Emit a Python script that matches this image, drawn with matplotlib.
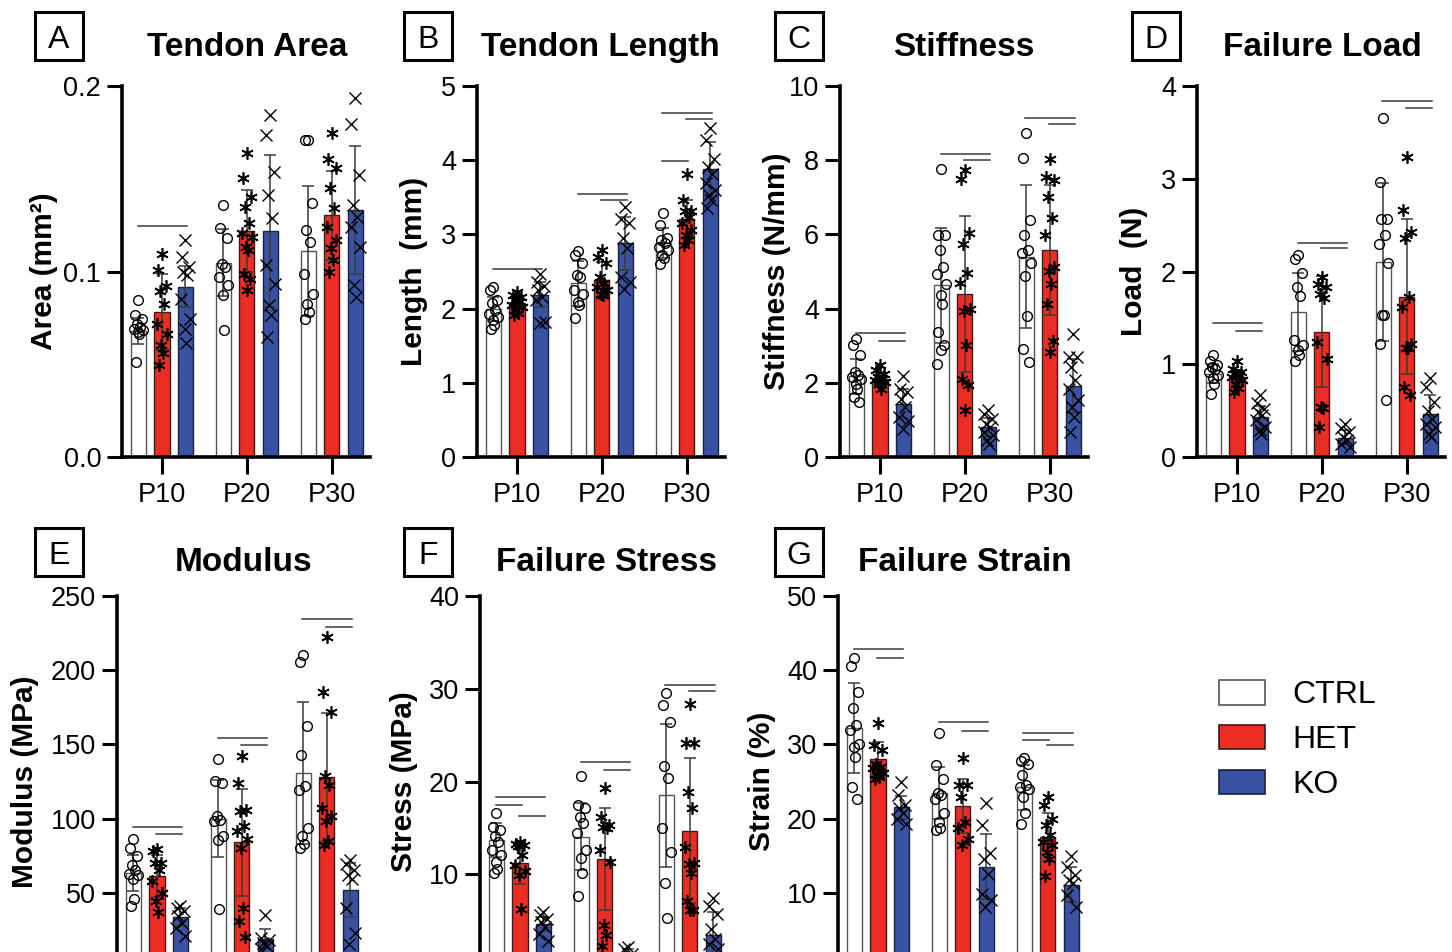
import matplotlib.pyplot as plt
from matplotlib.patches import Patch, Rectangle

plt.rcParams['font.family'] = ['Liberation Sans', 'DejaVu Sans']

groups = ["P10", "P20", "P30"]
genotypes = ["CTRL", "HET", "KO"]

# A - Tendon Area (mm2): one list per time point
area_ctrl = [[0.0845, 0.0764, 0.0746, 0.0719, 0.0701, 0.0692, 0.0683, 0.0674, 0.0665, 0.0513],
             [0.1358, 0.1232, 0.1178, 0.1043, 0.1025, 0.0971, 0.0926, 0.0872, 0.0683],
             [0.1709, 0.1709, 0.1367, 0.1223, 0.1160, 0.0989, 0.0881, 0.0827, 0.0782, 0.0746]]
area_het = [[0.1094, 0.1007, 0.0921, 0.0894, 0.0824, 0.0716, 0.0665, 0.0603, 0.0558, 0.0495],
            [0.1637, 0.1502, 0.1403, 0.1349, 0.1259, 0.1205, 0.1187, 0.1133, 0.1115, 0.0989, 0.0962, 0.0899],
            [0.1745, 0.1604, 0.1556, 0.1448, 0.1340, 0.1241, 0.1169, 0.1124, 0.1061, 0.0998]]
area_ko = [[0.1169, 0.1079, 0.1025, 0.0998, 0.0980, 0.0854, 0.0746, 0.0692, 0.0615],
           [0.1844, 0.1736, 0.1538, 0.1412, 0.1286, 0.1034, 0.0935, 0.0818, 0.0764, 0.0647],
           [0.1937, 0.1795, 0.1520, 0.1358, 0.1295, 0.1241, 0.1133, 0.0926, 0.0863]]
area_mean = [[0.068, 0.1047, 0.1112], [0.0782, 0.122, 0.1304], [0.0917, 0.122, 0.1331]]
area_sd = [[0.0072, 0.018, 0.035], [0.0203, 0.022, 0.024], [0.011, 0.041, 0.0345]]
area_sig = [(0, 0, 2, 0.1245)]  # (time point, from group, to group, height)

# B - Tendon Length (mm)
length_ctrl = [[2.29, 2.25, 2.11, 2.07, 1.98, 1.93, 1.89, 1.84, 1.78, 1.73],
               [2.77, 2.72, 2.61, 2.45, 2.43, 2.25, 2.20, 2.09, 2.05, 1.87],
               [3.29, 3.13, 2.95, 2.92, 2.88, 2.83, 2.79, 2.72, 2.68, 2.60]]
length_het = [[2.22, 2.18, 2.15, 2.12, 2.09, 2.05, 2.02, 1.98, 1.94, 1.92],
              [2.79, 2.70, 2.61, 2.43, 2.34, 2.29, 2.25, 2.20, 2.18],
              [3.82, 3.47, 3.32, 3.31, 3.24, 3.16, 3.06, 2.99, 2.93, 2.86]]
length_ko = [[2.47, 2.36, 2.30, 2.25, 2.16, 2.11, 1.82, 1.80],
             [3.37, 3.21, 3.15, 2.95, 2.81, 2.43, 2.36, 2.27],
             [4.43, 4.27, 4.02, 3.91, 3.82, 3.69, 3.60, 3.53, 3.46, 3.35]]
length_mean = [[1.99, 2.34, 2.88], [2.07, 2.38, 3.21], [2.19, 2.88, 3.88]]
length_sd = [[0.16, 0.30, 0.20], [0.08, 0.25, 0.26], [0.17, 0.36, 0.36]]
length_sig = [(0, 0, 2, 2.53), (1, 0, 2, 3.55), (1, 1, 2, 3.47),
              (2, 0, 2, 4.64), (2, 1, 2, 4.56), (2, 0, 1, 3.99)]

# C - Stiffness (N/mm)
stiff_ctrl = [[3.17, 3.01, 2.74, 2.29, 2.20, 2.16, 2.11, 1.98, 1.84, 1.62, 1.48],
              [7.75, 5.98, 5.98, 5.59, 5.13, 4.93, 4.66, 4.36, 4.12, 3.37, 3.01, 2.88, 2.52],
              [8.74, 8.07, 6.38, 5.98, 5.59, 5.49, 5.22, 4.87, 3.79, 2.92, 2.56]]
stiff_het = [[2.47, 2.34, 2.25, 2.16, 2.11, 2.07, 2.02, 1.98, 1.84],
             [7.73, 7.48, 6.03, 5.74, 4.95, 4.68, 4.00, 3.94, 3.01, 2.11, 1.93, 1.26],
             [8.02, 7.55, 7.46, 7.01, 6.43, 5.98, 5.11, 5.02, 4.66, 4.12, 3.13, 2.83]]
stiff_ko = [[2.18, 1.84, 1.75, 1.57, 1.35, 1.08, 0.97, 0.76],
            [1.28, 1.17, 1.03, 0.90, 0.81, 0.67, 0.58, 0.45, 0.36],
            [3.31, 2.70, 2.70, 2.43, 2.07, 1.84, 1.53, 1.35, 1.08, 0.67]]
stiff_mean = [[2.18, 4.63, 5.40], [2.11, 4.39, 5.59], [1.44, 0.81, 1.92]]
stiff_sd = [[0.47, 1.55, 1.93], [0.18, 2.10, 1.75], [0.40, 0.25, 0.73]]
stiff_sig = [(0, 0, 2, 3.35), (0, 1, 2, 3.13), (1, 0, 2, 8.18), (1, 1, 2, 8.0),
             (2, 0, 2, 9.15), (2, 1, 2, 8.97)]

# D - Failure Load (N)
load_ctrl = [[1.10, 1.03, 0.99, 0.97, 0.95, 0.92, 0.88, 0.85, 0.79, 0.68],
             [2.18, 2.14, 1.98, 1.83, 1.74, 1.26, 1.21, 1.15, 1.10, 1.04],
             [3.65, 2.97, 2.57, 2.57, 2.39, 2.30, 2.09, 1.53, 1.53, 1.22, 0.61]]
load_het = [[1.03, 0.95, 0.92, 0.90, 0.88, 0.86, 0.83, 0.79, 0.74, 0.70],
            [1.94, 1.87, 1.83, 1.76, 1.71, 1.24, 1.06, 0.54, 0.53, 0.32],
            [3.23, 2.66, 2.43, 2.36, 1.73, 1.62, 1.22, 1.17, 1.17, 0.76, 0.67]]
load_ko = [[0.67, 0.58, 0.52, 0.49, 0.45, 0.40, 0.32, 0.29, 0.25],
           [0.36, 0.31, 0.27, 0.22, 0.18, 0.14, 0.11],
           [0.85, 0.76, 0.59, 0.50, 0.41, 0.36, 0.32, 0.25, 0.22]]
load_mean = [[0.90, 1.56, 2.10], [0.86, 1.35, 1.73], [0.43, 0.21, 0.46]]
load_sd = [[0.10, 0.42, 0.85], [0.08, 0.60, 0.84], [0.12, 0.08, 0.21]]
load_sig = [(0, 0, 2, 1.45), (0, 1, 2, 1.36), (1, 0, 2, 2.31), (1, 1, 2, 2.25),
            (2, 0, 2, 3.84), (2, 1, 2, 3.76)]

# E - Modulus (MPa)
mod_ctrl = [[86.3, 80.3, 74.7, 68.4, 65.7, 63.0, 61.7, 59.0, 45.5, 41.0],
            [140.1, 125.1, 124.0, 101.6, 99.3, 98.2, 88.1, 85.9, 38.8],
            [210.3, 205.8, 162.1, 143.1, 122.2, 119.5, 93.7, 88.6, 83.2, 80.3]]
mod_het = [[79.2, 78.1, 70.2, 70.2, 65.7, 57.9, 50.0, 44.4, 37.0],
           [141.9, 124.0, 105.6, 104.9, 94.9, 91.5, 86.3, 80.3, 39.9, 31.0, 20.4],
           [222.2, 185.0, 171.5, 128.5, 122.9, 107.2, 101.6, 98.2, 84.8, 82.5]]
mod_ko = [[41.0, 39.9, 37.6, 34.3, 29.8, 26.5, 20.9],
          [34.8, 19.7, 18.2, 16.4, 14.1, 11.9],
          [72.4, 69.1, 65.7, 62.3, 59.0, 39.9, 23.1, 15.3]]
mod_mean = [[63.5, 99.8, 130.7], [61.2, 84.1, 128.0], [33.6, 19.1, 51.8]]
mod_sd = [[12.0, 26.0, 48.0], [14.0, 36.0, 43.0], [6.0, 6.5, 18.0]]
mod_sig = [(0, 0, 2, 94.4), (0, 1, 2, 89.9), (1, 0, 2, 154.3), (1, 1, 2, 149.3),
           (2, 0, 2, 234.3), (2, 1, 2, 229.4)]

# F - Failure Stress (MPa)
stress_ctrl = [[16.6, 15.1, 14.8, 14.1, 13.5, 12.6, 12.1, 11.3, 10.6, 10.1],
               [20.6, 17.5, 17.1, 16.2, 15.5, 14.4, 12.6, 11.7, 10.1, 7.7],
               [29.5, 28.3, 26.4, 21.7, 20.4, 15.0, 12.4, 9.1, 5.3]]
stress_het = [[13.5, 13.3, 13.1, 13.0, 12.1, 11.0, 10.4, 9.9, 6.3],
              [19.3, 16.2, 15.3, 15.1, 15.0, 12.6, 11.3, 4.5, 3.4, 2.3],
              [28.4, 24.2, 24.2, 18.9, 17.1, 12.9, 11.2, 11.1, 10.1, 7.1, 6.1, 6.1]]
stress_ko = [[5.9, 5.6, 5.2, 4.8, 4.3, 3.6, 2.8],
             [2.2, 1.9, 1.4, 1.0, 0.8, 0.5],
             [7.4, 6.6, 5.7, 4.1, 3.0, 2.5, 1.9, 1.0, 0.5]]
stress_mean = [[13.7, 14.05, 18.5], [11.2, 11.6, 14.7], [4.64, 1.3, 3.5]]
stress_sd = [[1.8, 3.6, 7.7], [2.3, 5.5, 7.8], [0.8, 0.6, 2.4]]
stress_sig = [(0, 0, 2, 18.3), (0, 0, 1, 17.5), (0, 1, 2, 16.3), (1, 0, 2, 22.1),
              (1, 1, 2, 21.2), (2, 0, 2, 30.4), (2, 1, 2, 29.8)]

# G - Failure Strain (%)
strain_ctrl = [[41.6, 40.5, 37.1, 34.9, 32.6, 32.0, 30.0, 29.7, 28.3, 24.3, 22.7],
               [31.6, 27.2, 25.4, 23.5, 23.2, 22.7, 20.8, 19.6, 18.7, 18.4],
               [28.2, 27.8, 27.4, 25.9, 24.5, 24.3, 24.0, 22.9, 20.7, 19.3]]
strain_het = [[32.9, 29.9, 29.2, 27.4, 27.0, 26.8, 26.2, 26.0, 25.6, 25.4],
              [28.1, 24.5, 24.5, 22.9, 19.6, 18.7, 17.3, 16.4],
              [22.9, 21.8, 20.0, 19.1, 17.8, 16.9, 16.4, 15.5, 14.5, 12.2]]
strain_ko = [[25.0, 23.2, 21.8, 21.4, 20.7, 20.0, 19.3],
             [22.1, 19.1, 15.3, 14.6, 12.6, 9.9, 9.0, 8.1],
             [14.9, 13.5, 12.4, 11.7, 11.3, 9.7, 8.1]]
strain_mean = [[32.2, 23.5, 24.2], [28.0, 21.7, 17.5], [21.5, 13.5, 11.1]]
strain_sd = [[6.1, 3.5, 3.0], [2.3, 3.7, 3.2], [1.6, 4.4, 2.4]]
strain_sig = [(0, 0, 2, 42.9), (0, 1, 2, 41.7), (1, 0, 2, 33.0), (1, 1, 2, 31.8),
              (2, 0, 2, 31.6), (2, 0, 1, 30.6), (2, 1, 2, 29.9)]

W, H = 1452, 952  # tamaño de la figura en píxeles
red = '#EC2D24'
blue = '#3A52A3'
bar_colors = ['white', red, blue]
edge_colors = ['#555555', '#3a1a1a', '#1a1f3a']
marker_styles = [dict(marker='o', mfc='none', mec='black', ms=7, mew=1.0),
                 dict(marker=(6, 2, 0), color='black', ms=9, mew=1.2),
                 dict(marker='x', color='black', ms=8, mew=1.0)]
off = 0.276   # separación entre barras de un grupo
bar_w = 0.18
spread = [0, -0.045, 0.045, -0.022, 0.022, -0.055, 0.055, -0.01, 0.012, -0.035, 0.035, 0.0, -0.05]

fig = plt.figure(figsize=(14.52, 9.52), dpi=100)


def draw_panel(left, top, bottom, pts, means, sds, sig, ymax, yticks, ylabels, ylabel, label_px,
               title, title_x, title_y, letter, letter_x, letter_y, show_x=True):
    ax = fig.add_axes([left / W, 1 - bottom / H, 248 / W, (bottom - top) / H])
    for k in range(3):
        xs = [g + (k - 1) * off for g in range(3)]
        ax.bar(xs, means[k], width=bar_w, color=bar_colors[k], edgecolor=edge_colors[k],
               linewidth=1.0, zorder=2)
        ax.errorbar(xs, means[k], yerr=sds[k], fmt='none', ecolor='#3a3a3a', elinewidth=1.1,
                    capsize=4, capthick=1.1, zorder=3)
        for g in range(3):
            vals = pts[k][g]
            xj = [xs[g] + spread[i % len(spread)] for i in range(len(vals))]
            ax.plot(xj, vals, linestyle='none', zorder=4, **marker_styles[k])
    # líneas de significancia
    for g, a, b, y in sig:
        ax.plot([g + (a - 1) * off - 0.01, g + (b - 1) * off + 0.02], [y, y],
                color='#3a3a3a', lw=1.1, zorder=4)

    ax.set_xlim(-0.47, 2.45)
    ax.set_ylim(0, ymax)
    ax.set_xticks(range(3))
    ax.set_xticklabels(groups)
    ax.set_yticks(yticks)
    ax.set_yticklabels(ylabels)
    ax.spines[['top', 'right']].set_visible(False)
    ax.spines[['left', 'bottom']].set_linewidth(2.6)
    ax.tick_params(axis='y', length=11, width=2.2, labelsize=19.5, pad=4)
    ax.tick_params(axis='x', length=12, width=2.2, labelsize=19.5, pad=6, labelbottom=show_x)
    ax.set_ylabel(ylabel, fontsize=21.5, fontweight='bold')
    ax.yaxis.set_label_coords(-label_px / 248, 0.5)

    fig.text(title_x / W, 1 - title_y / H, title, fontsize=24, fontweight='bold',
             ha='center', va='baseline')
    fig.add_artist(Rectangle(((letter_x - 24) / W, 1 - (letter_y + 24) / H), 48 / W, 48 / H,
                             transform=fig.transFigure, fill=False, lw=2.2, ec='black'))
    fig.text(letter_x / W, 1 - (letter_y + 12) / H, letter, fontsize=23,
             ha='center', va='baseline')
    return ax


# fila superior
draw_panel(122, 86, 457, [area_ctrl, area_het, area_ko], area_mean, area_sd, area_sig,
           0.2, [0, 0.1, 0.2], ['0.0', '0.1', '0.2'], 'Area (mm²)', 64,
           'Tendon Area', 247, 56, 'A', 59, 36)
draw_panel(477, 86, 457, [length_ctrl, length_het, length_ko], length_mean, length_sd, length_sig,
           5, range(6), [str(v) for v in range(6)], 'Length  (mm)', 49,
           'Tendon Length', 600, 56, 'B', 428, 36)
draw_panel(840, 86, 457, [stiff_ctrl, stiff_het, stiff_ko], stiff_mean, stiff_sd, stiff_sig,
           10, range(0, 11, 2), [str(v) for v in range(0, 11, 2)], 'Stiffness (N/mm)', 49,
           'Stiffness', 964, 56, 'C', 799, 36)
draw_panel(1197, 86, 457, [load_ctrl, load_het, load_ko], load_mean, load_sd, load_sig,
           4, range(5), [str(v) for v in range(5)], 'Load  (N)', 49,
           'Failure Load', 1322, 56, 'D', 1156, 36)

# fila inferior (el eje continúa por debajo del borde de la figura, el 0 no se ve)
draw_panel(117, 596, 967, [mod_ctrl, mod_het, mod_ko], mod_mean, mod_sd, mod_sig,
           250, range(50, 251, 50), [str(v) for v in range(50, 251, 50)], 'Modulus (MPa)', 78,
           'Modulus', 244, 571, 'E', 59, 552, show_x=False)
draw_panel(480, 596, 967, [stress_ctrl, stress_het, stress_ko], stress_mean, stress_sd, stress_sig,
           40, range(10, 41, 10), [str(v) for v in range(10, 41, 10)], 'Stress (MPa)', 62,
           'Failure Stress', 607, 571, 'F', 428, 552, show_x=False)
draw_panel(838, 596, 967, [strain_ctrl, strain_het, strain_ko], strain_mean, strain_sd, strain_sig,
           50, range(10, 51, 10), [str(v) for v in range(10, 51, 10)], 'Strain (%)', 62,
           'Failure Strain', 965, 571, 'G', 799, 552, show_x=False)

# leyenda
handles = [Patch(facecolor=c, edgecolor=e, linewidth=1.2) for c, e in zip(bar_colors, edge_colors)]
fig.legend(handles, genotypes, loc='center left', bbox_to_anchor=(1219 / W, 1 - 740 / H),
           frameon=False, fontsize=23, handlelength=1.45, handleheight=0.8,
           handletextpad=0.85, labelspacing=0.45, borderpad=0, borderaxespad=0)

fig.savefig('out.png', dpi=100)
